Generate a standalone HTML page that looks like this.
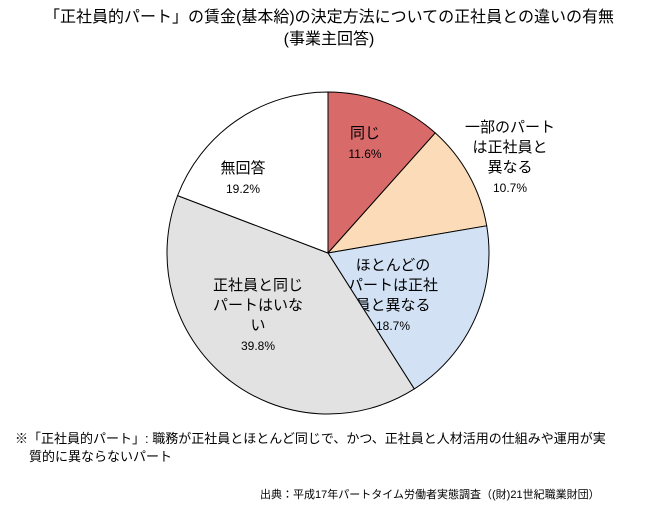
<!DOCTYPE html>
<html><head><meta charset="utf-8"><style>
body{margin:0;background:#fff;width:658px;height:506px;overflow:hidden;font-family:"Liberation Sans","Noto Sans CJK JP",sans-serif;}
svg text{font-family:"Liberation Sans","Noto Sans CJK JP",sans-serif;fill:#000;}
</style></head><body>
<svg width="658" height="506">
<text x="329" y="22" font-size="16" text-anchor="middle">「正社員的パート」の賃金(基本給)の決定方法についての正社員との違いの有無</text>
<text x="329" y="44" font-size="16" text-anchor="middle">(事業主回答)</text>
<g id="pie"></g>
<text x="15" y="443" font-size="13">※「正社員的パート」: 職務が正社員とほとんど同じで、かつ、正社員と人材活用の仕組みや運用が実</text>
<text x="29" y="461" font-size="13">質的に異ならないパート</text>
<text x="260" y="498" font-size="11">出典：平成17年パートタイム労働者実態調査（(財)21世紀職業財団）</text>
</svg>
<script>
const categories=[["同じ"],["一部のパート","は正社員と","異なる"],["ほとんどの","パートは正社","員と異なる"],["正社員と同じ","パートはいな","い"],["無回答"]];
const values=[11.6,10.7,18.7,39.8,19.2];
const fills=["#d86a6a","#fcdcb8","#d2e2f4","#e2e2e2","#fff"];
const cx=328,cy=253,r=161;
const labelPos=[[365,143],[510,157],[393,295],[258,315],[243,178]];
const g=document.getElementById('pie');
const ns="http://www.w3.org/2000/svg";
const total=values.reduce((a,b)=>a+b,0);
let acc=0;
function pt(f,rr){const a=f*2*Math.PI;return [cx+rr*Math.sin(a),cy-rr*Math.cos(a)];}
values.forEach((v,i)=>{
 const s=acc/total,e=(acc+v)/total;acc+=v;
 const [x1,y1]=pt(s,r),[x2,y2]=pt(e,r);
 const p=document.createElementNS(ns,'path');
 p.setAttribute('d',`M${cx},${cy}L${x1},${y1}A${r},${r} 0 ${e-s>0.5?1:0} 1 ${x2},${y2}Z`);
 p.setAttribute('fill',fills[i]);p.setAttribute('stroke','#000');p.setAttribute('stroke-width','1');
 
 
 g.appendChild(p);
 const lines=categories[i].concat([v.toFixed(1)+"%"]);
 const [lx,ly]=labelPos[i];
 const t=document.createElementNS(ns,'text');
 t.setAttribute('text-anchor','middle');t.setAttribute('font-size','15');
 
 
 const start=ly-(lines.length-1)*20/2;
 lines.forEach((L,j)=>{const ts=document.createElementNS(ns,'tspan');ts.setAttribute('x',lx);ts.setAttribute('y',start+j*20+5);if(j==lines.length-1)ts.setAttribute('font-size','12');ts.textContent=L;t.appendChild(ts);});
 g.appendChild(t);
});
</script>
</body></html>
